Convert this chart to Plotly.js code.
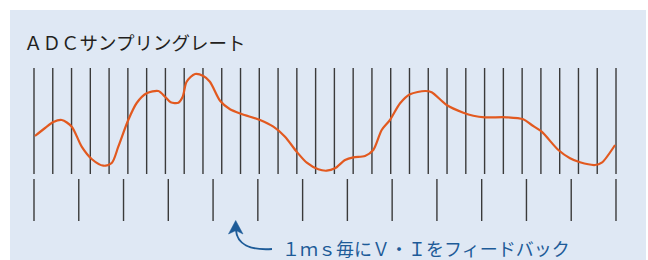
<!DOCTYPE html>
<html>
<head>
<meta charset="utf-8">
<script src="https://cdn.plot.ly/plotly-3.0.1.min.js"></script>
<style>html,body{margin:0;padding:0;background:#fff;}#chart{width:648px;height:260px;}</style>
</head>
<body>
<div id="chart"></div>
<script>
// ADC sampling instants (sample index) and 1 ms feedback instants (ms)
const adcSamples = [0,1,2,3,4,5,6,7,8,9,10,11,12,13,14,15,16,17,18,19,20,21,22,23,24,25,26,27,28,29,30,31];
const feedbackMs = [0,1,2,3,4,5,6,7,8,9,10,11,12,13];
// analog signal (x in sample index units, y arbitrary level)
const signalX = [0.05,0.59,1.03,1.48,2.01,2.54,3.07,3.69,4.14,4.49,5.02,5.47,6.00,6.62,6.98,7.28,7.69,7.92,8.13,8.58,9.02,9.37,9.91,10.44,11.06,12.04,12.75,13.37,13.99,14.53,15.14,15.59,16.03,16.57,17.01,17.63,18.07,18.52,18.96,19.50,20.03,20.83,21.18,21.98,22.87,23.40,24.02,25.18,26.06,26.51,27.04,27.93,28.55,29.08,29.88,30.24,30.95];
const signalY = [38,46,52,54,47.3,27.3,15,8.3,11,27.3,54,71,80.7,83,77.3,71.8,71.3,77.3,92.3,100,98,92.3,73.3,64.7,60,54,47.3,37.3,22.3,11.3,4.7,3.3,5.7,14,16.7,18,24,44,54,70.7,79.7,83,81.7,69,61.3,58.3,56.7,56.7,54.7,49,42.3,24,15.7,11.7,9,11.3,29];
const titleText = "ＡＤＣサンプリングレート";
const noteText = "１ｍｓ毎にＶ・Ｉをフィードバック";

function segs(ts, y0, y1) {
  const xs = [], ys = [];
  ts.forEach(t => { xs.push(t, t, null); ys.push(y0, y1, null); });
  return {xs, ys};
}
const up = segs(adcSamples, 0, 106);
const lo = segs(feedbackMs, -5, -47);

const traces = [
  {x: up.xs, y: up.ys, type: 'scatter', mode: 'lines', xaxis: 'x', yaxis: 'y',
   line: {color: '#3a3a3a', width: 1.4}, hoverinfo: 'skip', showlegend: false},
  {x: lo.xs, y: lo.ys, type: 'scatter', mode: 'lines', xaxis: 'x2', yaxis: 'y',
   line: {color: '#3a3a3a', width: 1.4}, hoverinfo: 'skip', showlegend: false},
  {x: signalX, y: signalY, type: 'scatter', mode: 'lines', xaxis: 'x', yaxis: 'y',
   line: {color: '#e2591f', width: 2.2, shape: 'spline', smoothing: 0.8}, showlegend: false}
];

const P = (px, py) => (px/648).toFixed(5) + ',' + (1 - py/260).toFixed(5);

const layout = {
  width: 648, height: 260,
  margin: {l: 0, r: 0, t: 0, b: 0},
  paper_bgcolor: '#ffffff', plot_bgcolor: 'rgba(0,0,0,0)',
  showlegend: false,
  xaxis: {range: [-1.811, 32.704], visible: false, fixedrange: true},
  xaxis2: {range: [-0.7594, 13.715], overlaying: 'x', visible: false, fixedrange: true},
  yaxis: {range: [-86, 174], visible: false, fixedrange: true},
  shapes: [
    {type: 'rect', xref: 'paper', yref: 'paper', x0: 10/648, x1: 646/648, y0: 0, y1: 1 - 10/260,
     fillcolor: '#dfe8f4', line: {width: 0}, layer: 'below'},
    {type: 'path', xref: 'paper', yref: 'paper',
     path: 'M' + P(272,249) + ' C' + P(250,250.5) + ' ' + P(237,244) + ' ' + P(236,230),
     line: {color: '#1d5b98', width: 2}},
    {type: 'path', xref: 'paper', yref: 'paper',
     path: 'M' + P(235.7,220.5) + ' L' + P(243,234) + ' L' + P(236,230.5) + ' L' + P(228.5,234) + ' Z',
     fillcolor: '#1d5b98', line: {color: '#1d5b98', width: 0.5}}
  ],
  annotations: [
    {text: titleText, xref: 'paper', yref: 'paper', x: 22/648, y: 1 - 41.5/260,
     xanchor: 'left', yanchor: 'middle', showarrow: false,
     font: {family: 'Noto Sans CJK JP', size: 18.5, color: '#231f20'}},
    {text: noteText, xref: 'paper', yref: 'paper', x: 280/648, y: 1 - 247.5/260,
     xanchor: 'left', yanchor: 'middle', showarrow: false,
     font: {family: 'Noto Sans CJK JP', size: 18, color: '#1d5b98'}}
  ]
};

Plotly.newPlot('chart', traces, layout, {displayModeBar: false, staticPlot: true});
</script>
</body>
</html>
